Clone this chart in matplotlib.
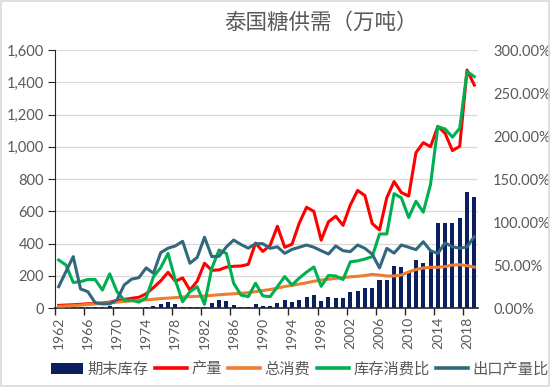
import matplotlib
matplotlib.use("Agg")
import matplotlib.pyplot as plt
import numpy as np
from matplotlib.ticker import PercentFormatter, FuncFormatter, FixedLocator
from matplotlib.patches import Rectangle

plt.rcParams['font.family'] = ['Lato', 'Noto Sans CJK SC', 'DejaVu Sans']

years = list(range(1962, 2020))

# 期末库存 (万吨)
stock = [7, 7, 5, 6, 8, 9, 6, 13, 7, 4, 4, 4, 6,
         16, 27, 38, 24, 5, 10, 10, 5, 33, 50, 46, 18, 10, 8, 25, 14, 14,
         35, 52, 41, 52, 67, 80, 44, 72, 62, 62, 101, 105, 126, 126, 178, 178,
         265, 256, 225, 301, 281, 356, 528, 528, 528, 562, 723, 692]
# 产量 (万吨)
production = [18, 20, 22, 25, 28, 30, 33, 38, 48, 55, 62, 68, 90, 128, 170, 223, 168, 188, 113, 168,
              279, 235, 238, 255, 260, 262, 272, 404, 352, 390, 508, 378, 397, 528, 626, 600, 422, 536, 570, 514,
              640, 730, 698, 525, 485, 685, 785, 717, 695, 964, 1026, 1001, 1127, 1084, 977, 1003, 1476, 1383]
# 总消费 (万吨)
consumption = [12, 14, 16, 20, 24, 27, 30, 33, 38, 42, 46, 50, 52, 56, 60, 63, 66, 70, 72, 74,
               76, 80, 84, 87, 90, 93, 97, 103, 110, 116, 125, 135, 142, 150, 158, 167, 175, 180, 185, 190,
               195, 198, 203, 210, 206, 200, 200, 206, 225, 240, 250, 254, 254, 258, 268, 270, 264, 255]
# 库存消费比
stock_ratio = [0.561, 0.503, 0.300, 0.309, 0.334, 0.334, 0.212, 0.401, 0.193, 0.094,
               0.094, 0.071, 0.122, 0.366, 0.473, 0.638, 0.328, 0.075, 0.193, 0.251,
               0.047, 0.465, 0.677, 0.638, 0.291, 0.154, 0.135, 0.291, 0.144, 0.135,
               0.251, 0.368, 0.270, 0.351, 0.420, 0.480, 0.255, 0.381, 0.375, 0.334,
               0.540, 0.551, 0.572, 0.600, 0.863, 0.863, 1.331, 1.283, 1.054, 1.243,
               1.116, 1.440, 2.109, 2.083, 1.988, 2.091, 2.749, 2.691]
# 出口产量比
export_ratio = [0.251, 0.426, 0.600, 0.225, 0.193, 0.066, 0.051, 0.051, 0.098, 0.272,
                0.338, 0.356, 0.469, 0.407, 0.647, 0.698, 0.724, 0.778, 0.523, 0.591,
                0.825, 0.600, 0.604, 0.713, 0.793, 0.741, 0.698, 0.750, 0.750, 0.696,
                0.714, 0.638, 0.684, 0.709, 0.735, 0.709, 0.669, 0.630, 0.724, 0.669,
                0.658, 0.735, 0.696, 0.628, 0.469, 0.696, 0.641, 0.735, 0.709, 0.681,
                0.773, 0.668, 0.638, 0.759, 0.714, 0.698, 0.713, 0.833]

labels = ['期末库存', '产量', '总消费', '库存消费比', '出口产量比']
colors = ['#0c1f5e', '#ff0000', '#ed7d31', '#00b050', '#31687b']
gray = '#595959'

x = np.arange(len(years))

fig = plt.figure(figsize=(5.5, 3.87), dpi=100)
fig.patches.append(Rectangle((0.002, 0.002), 0.996, 0.996, transform=fig.transFigure,
                             fill=False, edgecolor='#d9d9d9', lw=1.2))
ax = fig.add_axes([0.1, 0.2034, 0.769, 0.6674])
ax2 = ax.twinx()

b = ax.bar(x, stock, width=0.55, color=colors[0], label=labels[0], zorder=2)
l1, = ax.plot(x, production, color=colors[1], lw=2.2, label=labels[1], zorder=3)
l2, = ax.plot(x, consumption, color=colors[2], lw=2.2, label=labels[2], zorder=3)
l3, = ax2.plot(x, stock_ratio, color=colors[3], lw=2.2, label=labels[3], zorder=3)
l4, = ax2.plot(x, export_ratio, color=colors[4], lw=2.2, label=labels[4], zorder=4)

ax.set_xlim(-0.5, len(years) - 0.5)
ax.set_ylim(0, 1600)
ax2.set_ylim(0, 3.0)

ax.set_yticks(np.arange(0, 1601, 200))
ax.yaxis.set_major_formatter(FuncFormatter(lambda v, p: f'{int(v):,}'))
ax2.set_yticks(np.arange(0, 3.01, 0.5))
ax2.yaxis.set_major_formatter(PercentFormatter(xmax=1, decimals=2))

ax.grid(axis='y', color='#d9d9d9', lw=0.9, zorder=0)
ax.set_axisbelow(True)

# x ticks: marks at category boundaries, labels at centers
ax.xaxis.set_major_locator(FixedLocator(np.arange(-0.5, len(years), 4)))
ax.xaxis.set_major_formatter(FuncFormatter(lambda v, p: ''))
ax.xaxis.set_minor_locator(FixedLocator(np.arange(0, len(years), 4)))
ax.set_xticklabels([str(years[i]) for i in range(0, len(years), 4)], minor=True)
ax.tick_params(axis='x', which='major', length=5, width=1, color='#262626', direction='out')
ax.tick_params(axis='x', which='minor', length=0, pad=6, labelsize=10, labelcolor=gray, labelrotation=90)
ax.tick_params(axis='y', length=5, width=0.8, color='#262626', labelsize=10.5, labelcolor=gray, pad=3)
ax2.tick_params(axis='y', length=0, labelsize=10.5, labelcolor=gray, pad=11)

for a in (ax, ax2):
    a.spines['top'].set_visible(False)
    a.spines['right'].set_visible(False)
ax2.spines['left'].set_visible(False)
ax2.spines['bottom'].set_visible(False)
ax.spines['left'].set_color('#262626')
ax.spines['bottom'].set_color('#262626')
ax.spines['bottom'].set_linewidth(1.2)

fig.text(0.584, 0.94, '泰国糖供需（万吨）', ha='center', va='center', fontsize=15.5,
         color=gray, family=['Noto Sans CJK SC', 'DejaVu Sans'])

leg = fig.legend([b, l1, l2, l3, l4], labels, loc='center', bbox_to_anchor=(0.545, 1 - 369 / 387),
                 ncol=5, frameon=False, handlelength=2.1, handletextpad=0.3, columnspacing=0.4,
                 prop={'family': ['Noto Sans CJK SC', 'DejaVu Sans'], 'size': 11}, labelcolor=gray)
for h in leg.legend_handles[1:]:
    h.set_linewidth(2.6)

fig.savefig('out.png', dpi=100)
